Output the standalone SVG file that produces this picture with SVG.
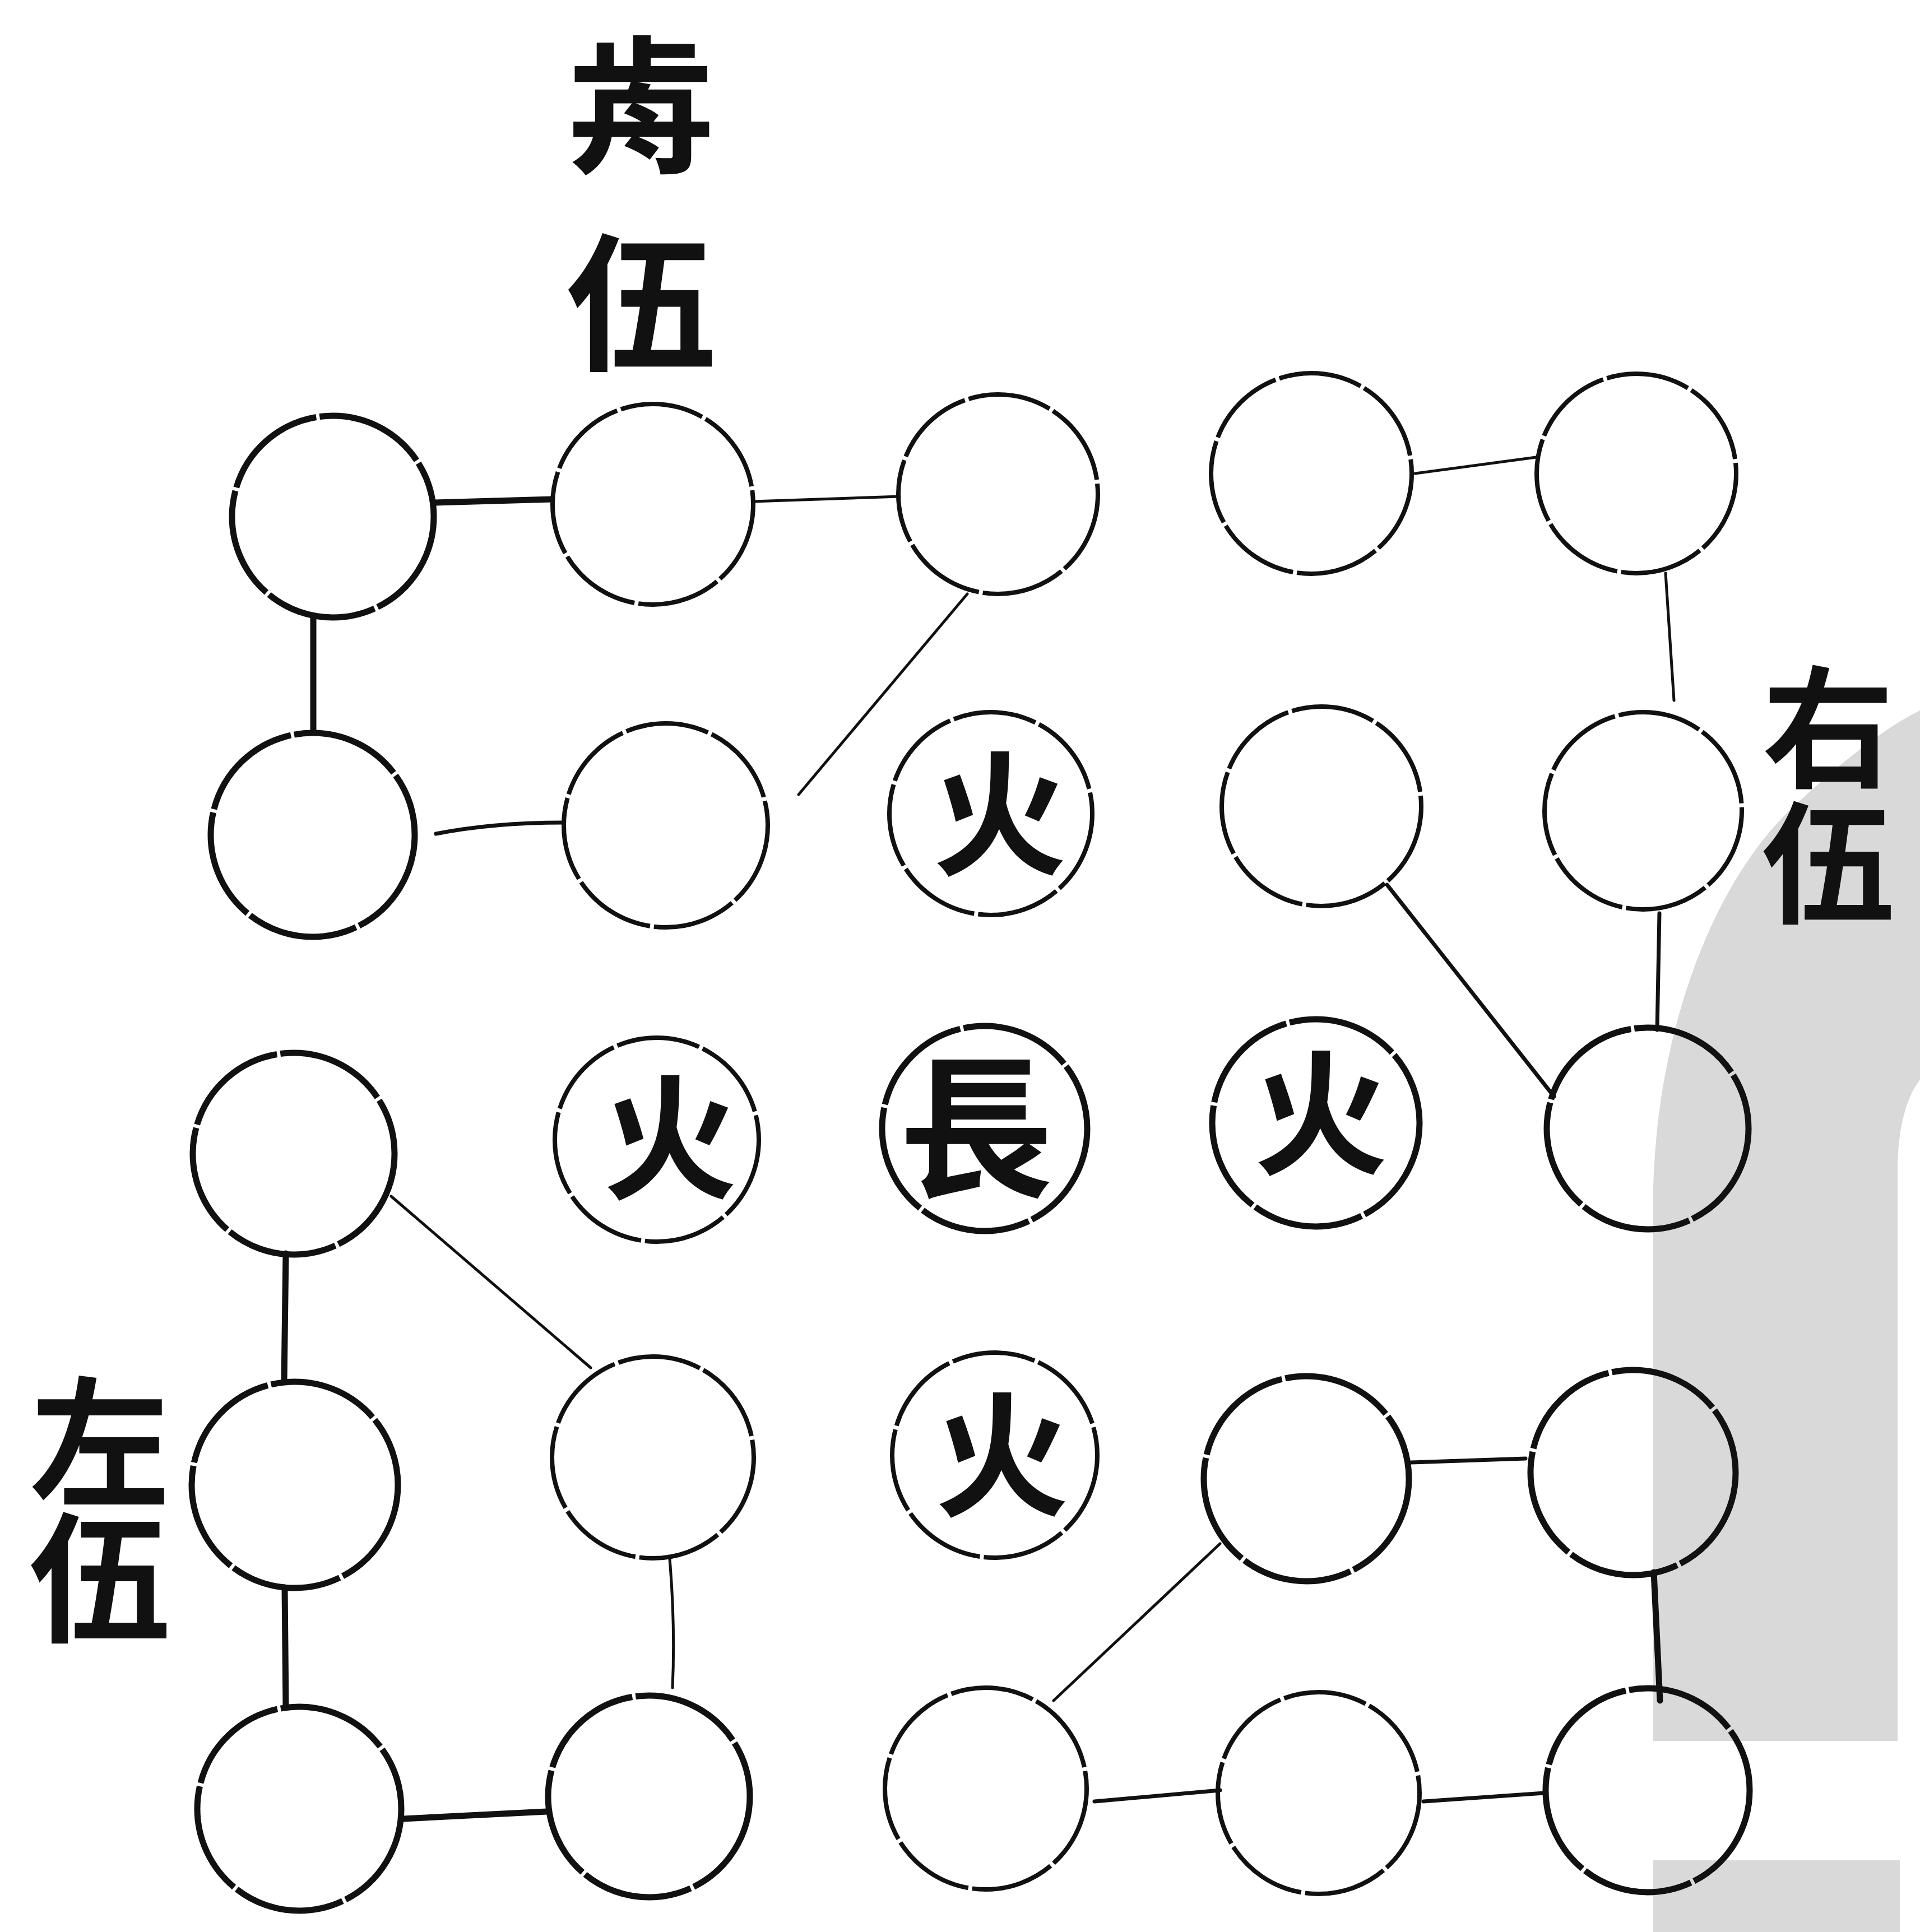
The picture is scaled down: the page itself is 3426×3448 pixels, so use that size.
<svg xmlns="http://www.w3.org/2000/svg" width="3426" height="3448" viewBox="0 0 3426 3448">
<style>
.n{fill:none;stroke:#111;stroke-width:8;stroke-dasharray:150 7}
.nb{fill:none;stroke:#111;stroke-width:11;stroke-dasharray:200 6}
.c{stroke:#111;fill:none;stroke-linecap:round}
.th{stroke-width:11}
.md{stroke-width:7}
.tn{stroke-width:5}
.lbl{font-family:"Noto Sans CJK TC","Noto Sans CJK SC",serif;font-weight:700;fill:#111;text-anchor:middle}
.vt{font-family:"Noto Sans CJK TC","Noto Sans CJK SC",serif;font-weight:700;fill:#111;writing-mode:vertical-rl;text-orientation:upright}
.top{font-size:265px;letter-spacing:87px}
.side{font-size:235px;letter-spacing:7px}
.left{font-size:250px;letter-spacing:-8px}
.in{font-size:240px}
.chief{font-size:275px}
</style>
<rect x="0" y="0" width="3426" height="3448" fill="#fff"/>
<g id="page-shadow" fill="#d9d9d9">
<path d="M2950,3107 L2950,2120 C2958,1830 3060,1570 3200,1440 C 3280,1365 3360,1300 3426,1268 L3426,1927 C3400,1960 3386,2020 3386,2088 L3386,3107 Z"/>
<rect x="2950" y="3320" width="440" height="128"/>
</g>
<g id="labels">
<text class="vt top" x="1144" y="55">歬伍</text>
<text class="vt side" x="3262" y="1180">右伍</text>
<text class="vt left" x="178" y="2448">左伍</text>
</g>
<g id="connectors">
<line class="c th" x1="776" y1="897" x2="985" y2="891"/>
<line class="c tn" x1="1343" y1="895" x2="1605" y2="886"/>
<line class="c th" x1="559" y1="1099" x2="559" y2="1306"/>
<path class="c md" d="M778,1488 Q880,1468 1005,1468"/>
<line class="c tn" x1="1726" y1="1060" x2="1425" y2="1418"/>
<line class="c tn" x1="2525" y1="845" x2="2741" y2="816"/>
<line class="c tn" x1="2972" y1="1023" x2="2987" y2="1250"/>
<line class="c md" x1="2961" y1="1630" x2="2957" y2="1838"/>
<line class="c md" x1="2475" y1="1579" x2="2773" y2="1957"/>
<line class="c th" x1="510" y1="2237" x2="507" y2="2466"/>
<line class="c tn" x1="698" y1="2135" x2="1054" y2="2441"/>
<line class="c th" x1="508" y1="2833" x2="510" y2="3047"/>
<line class="c th" x1="719" y1="3246" x2="976" y2="3233"/>
<path class="c tn" d="M1195,2782 Q1205,2900 1200,3012"/>
<line class="c md" x1="2518" y1="2610" x2="2722" y2="2603"/>
<line class="c tn" x1="2177" y1="2755" x2="1880" y2="3035"/>
<line class="c th" x1="2951" y1="2806" x2="2962" y2="3035"/>
<line class="c md" x1="1953" y1="3215" x2="2177" y2="3195"/>
<line class="c md" x1="2540" y1="3215" x2="2755" y2="3200"/>
</g>
<g id="n11"><circle class="nb" cx="594" cy="922" r="180"/></g>
<g id="n12"><circle class="n" cx="1165" cy="900" r="179"/></g>
<g id="n13"><circle class="n" cx="1781" cy="882" r="178"/></g>
<g id="n14"><circle class="n" cx="2340" cy="845" r="179"/></g>
<g id="n15"><circle class="n" cx="2920" cy="845" r="178"/></g>
<g id="n21"><circle class="nb" cx="558" cy="1490" r="182"/></g>
<g id="n22"><circle class="n" cx="1188" cy="1473" r="182"/></g>
<g id="n23"><circle class="n" cx="1768" cy="1452" r="181"/><text class="lbl in" x="1784" y="1543">火</text></g>
<g id="n24"><circle class="n" cx="2358" cy="1439" r="178"/></g>
<g id="n25"><circle class="n" cx="2932" cy="1447" r="176"/></g>
<g id="n31"><circle class="nb" cx="524" cy="2059" r="180"/></g>
<g id="n32"><circle class="n" cx="1172" cy="2034" r="182"/><text class="lbl in" x="1196" y="2121">火</text></g>
<g id="n33"><circle class="nb" cx="1757" cy="2014" r="183"/><text class="lbl chief" x="1742" y="2115">長</text></g>
<g id="n34"><circle class="nb" cx="2348" cy="2004" r="185"/><text class="lbl in" x="2357" y="2077">火</text></g>
<g id="n35"><circle class="nb" cx="2940" cy="2014" r="180"/></g>
<g id="n41"><circle class="nb" cx="526" cy="2650" r="184"/></g>
<g id="n42"><circle class="n" cx="1165" cy="2601" r="180"/></g>
<g id="n43"><circle class="n" cx="1775" cy="2597" r="183"/><text class="lbl in" x="1788" y="2687">火</text></g>
<g id="n44"><circle class="nb" cx="2331" cy="2639" r="183"/></g>
<g id="n45"><circle class="nb" cx="2914" cy="2628" r="183"/></g>
<g id="n51"><circle class="nb" cx="534" cy="3228" r="182"/></g>
<g id="n52"><circle class="nb" cx="1158" cy="3206" r="180"/></g>
<g id="n53"><circle class="n" cx="1759" cy="3192" r="180"/></g>
<g id="n54"><circle class="n" cx="2353" cy="3200" r="180"/></g>
<g id="n55"><circle class="nb" cx="2940" cy="3195" r="182"/></g>
</svg>
